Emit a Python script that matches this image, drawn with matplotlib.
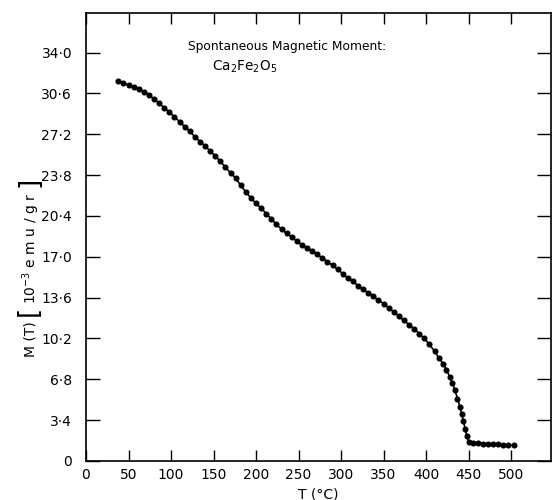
import matplotlib
matplotlib.use("Agg")
import matplotlib.pyplot as plt

# data
temp_c = [38, 44, 50, 56, 62, 68, 74, 80, 86, 92, 98, 104, 110, 116, 122, 128,
          134, 140, 146, 152, 158, 164, 170, 176, 182, 188, 194, 200, 206, 212,
          218, 224, 230, 236, 242, 248, 254, 260, 266, 272, 278, 284, 290, 296,
          302, 308, 314, 320, 326, 332, 338, 344, 350, 356, 362, 368, 374, 380,
          386, 392, 398, 404, 410, 415, 420, 424, 428, 431, 434, 437, 440, 442,
          444, 446, 448, 450, 455, 461, 467, 473, 479, 485, 491, 497, 503]
moment = [31.6, 31.45, 31.3, 31.15, 30.95, 30.75, 30.5, 30.15, 29.8, 29.4,
          29.05, 28.65, 28.25, 27.85, 27.45, 27.0, 26.6, 26.25, 25.8, 25.4,
          24.95, 24.45, 24.0, 23.55, 22.95, 22.4, 21.9, 21.45, 21.05, 20.6,
          20.15, 19.7, 19.3, 18.95, 18.65, 18.3, 18.0, 17.75, 17.5, 17.2,
          16.9, 16.6, 16.3, 15.95, 15.6, 15.2, 14.95, 14.6, 14.3, 14.0,
          13.7, 13.4, 13.1, 12.75, 12.4, 12.05, 11.7, 11.35, 11.0, 10.6,
          10.2, 9.7, 9.15, 8.6, 8.1, 7.6, 7.0, 6.5, 5.9, 5.2,
          4.5, 3.9, 3.3, 2.7, 2.1, 1.6, 1.5, 1.48, 1.45, 1.42,
          1.4, 1.38, 1.36, 1.33, 1.3]

x_ticks = [0, 50, 100, 150, 200, 250, 300, 350, 400, 450, 500]
x_labels = ["0", "50", "100", "150", "200", "250", "300", "350", "400", "450", "500"]
y_ticks = [0, 3.4, 6.8, 10.2, 13.6, 17.0, 20.4, 23.8, 27.2, 30.6, 34.0]
y_labels = ["0", "3·4", "6·8", "10·2", "13·6", "17·0", "20·4", "23·8", "27·2", "30·6", "34·0"]

plt.rcParams["font.family"] = ["DejaVu Sans"]

fig = plt.figure(figsize=(5.53, 5.0), dpi=100)
ax = fig.add_axes([86 / 553, 39 / 500, 465 / 553, 448 / 500])

ax.plot(temp_c, moment, "-", color="black", lw=1.2,
        marker="o", markersize=4.4, markeredgewidth=0)

ax.set_xlim(0, 547)
ax.set_ylim(0, 37.3)

ax.set_xticks(x_ticks)
ax.set_xticklabels(x_labels)
ax.set_yticks(y_ticks)
ax.set_yticklabels(y_labels)
ax.tick_params(axis="both", direction="in", colors="black", width=1.0,
               labelsize=10)
ax.tick_params(axis="y", length=10, pad=10, right=True)
ax.tick_params(axis="x", length=8, pad=5, top=True)
for sp in ax.spines.values():
    sp.set_linewidth(1.2)

ax.set_xlabel("T (°C)", fontsize=10, labelpad=4)

# y label pieced together so the brackets can be tall
def ylab(y_px, s, size, x_px=31):
    fig.text(x_px / 553, 1 - y_px / 500, s, rotation=90,
             ha="center", va="center", fontsize=size)

ylab(339, "M (T)", 10)
ylab(311, "[", 19, x_px=29)
ylab(248, r"10$^{-3}$ e m u / g r", 10)
ylab(182, "]", 19, x_px=29)

ax.text(236, 34.5, "Spontaneous Magnetic Moment:", ha="center",
        va="center", fontsize=8.8)
ax.text(187, 32.8, r"$\mathrm{Ca_2Fe_2O_5}$", ha="center", va="center",
        fontsize=9.8)

fig.savefig("out.png", dpi=100)
